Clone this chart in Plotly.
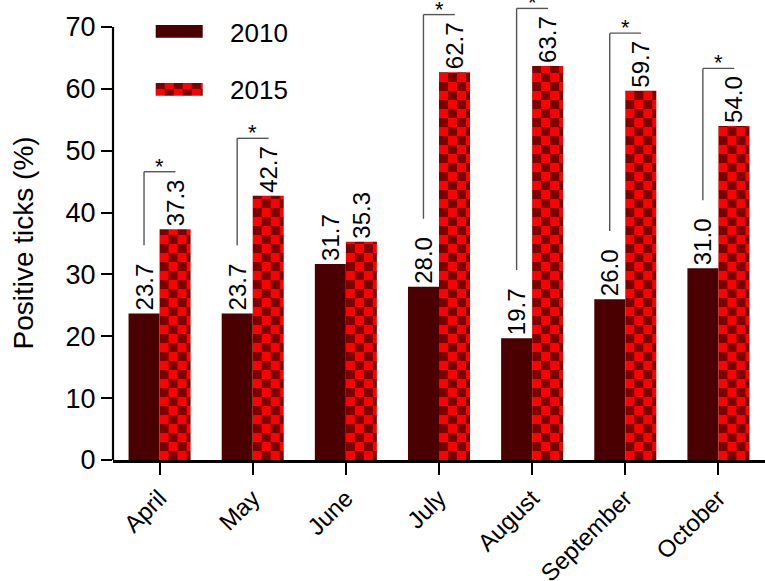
import plotly.graph_objects as go

# Monthly share of ticks testing positive, two survey years
months = ["April", "May", "June", "July", "August", "September", "October"]
pos_2010 = [23.7, 23.7, 31.7, 28.0, 19.7, 26.0, 31.0]
pos_2015 = [37.3, 42.7, 35.3, 62.7, 63.7, 59.7, 54.0]
significant = [True, True, False, True, True, True, True]
y_ticks = [0, 10, 20, 30, 40, 50, 60, 70]

FONT = "Liberation Sans, Arial, Helvetica, sans-serif"
DARK = "#4a0000"
CHECK_DARK = "#7a0000"
CHECK_RED = "#ff0000"

fig = go.Figure()
fig.add_trace(go.Bar(
    x=months, y=pos_2010, name="2010", marker_color=DARK, marker_line_width=0,
    texttemplate="%{y:.1f}", textposition="outside", textangle=-90,
    constraintext="none", cliponaxis=False,
    textfont=dict(family=FONT, size=24, color="black"),
))
fig.add_trace(go.Bar(
    x=months, y=pos_2015, name="2015", marker_color=CHECK_RED, marker_line_width=0,
    texttemplate="%{y:.1f}", textposition="outside", textangle=-90,
    constraintext="none", cliponaxis=False,
    textfont=dict(family=FONT, size=24, color="black"),
))

shapes = []
annotations = []

# Significance brackets: from above the 2010 label up to above the 2015 label
for i, sig in enumerate(significant):
    if not sig:
        continue
    low = pos_2010[i] + 11.0
    high = pos_2015[i] + 9.3
    xl, xr = i - 0.167, i + 0.17
    line = dict(color="#555555", width=1.4)
    shapes.append(dict(type="line", xref="x", yref="y", x0=xl, x1=xl, y0=low, y1=high, line=line))
    shapes.append(dict(type="line", xref="x", yref="y", x0=xl, x1=xr, y0=high, y1=high, line=line))
    annotations.append(dict(x=(xl + xr) / 2, y=high, xref="x", yref="y", text="*",
                            showarrow=False, yanchor="bottom", yshift=-9,
                            font=dict(family=FONT, size=22, color="black")))

# Left axis line, drawn only over the labelled range
shapes.append(dict(type="line", xref="paper", yref="y", x0=0, x1=0, y0=0, y1=70,
                   line=dict(color="black", width=2.2)))

# Hand-drawn legend: wide swatches with labels
shapes.append(dict(type="rect", xref="paper", yref="paper", x0=0.0655, x1=0.1376,
                   y0=0.918, y1=0.9457, fillcolor=DARK, line_width=0))
shapes.append(dict(type="rect", xref="paper", yref="paper", x0=0.0655, x1=0.1376,
                   y0=0.792, y1=0.8196, fillcolor=CHECK_RED, line_width=0))
legend_swatch_index = len(shapes) - 1
annotations.append(dict(x=0.176, y=0.929, xref="paper", yref="paper", text="2010",
                        showarrow=False, xanchor="left", yanchor="middle",
                        font=dict(family=FONT, size=26, color="black")))
annotations.append(dict(x=0.176, y=0.804, xref="paper", yref="paper", text="2015",
                        showarrow=False, xanchor="left", yanchor="middle",
                        font=dict(family=FONT, size=26, color="black")))

# Y axis title
annotations.append(dict(x=0, y=0.4707, xref="paper", yref="paper", xshift=-90,
                        text="Positive ticks (%)", textangle=-90, showarrow=False,
                        xanchor="center", yanchor="middle",
                        font=dict(family=FONT, size=28, color="black")))

fig.update_layout(
    width=765, height=581,
    margin=dict(l=113, r=0, t=0, b=121, autoexpand=False),
    plot_bgcolor="white", paper_bgcolor="white",
    barmode="group", bargap=0.334, bargroupgap=0,
    showlegend=False,
    font=dict(family=FONT, color="black"),
    shapes=shapes, annotations=annotations,
    xaxis=dict(
        range=[-0.5, 6.5], showline=True, linecolor="black", linewidth=2.5,
        ticks="outside", ticklen=12, tickwidth=2, tickcolor="black",
        tickangle=-45, tickfont=dict(family=FONT, size=24, color="black"),
        showgrid=False, zeroline=False, automargin=False,
    ),
    yaxis=dict(
        range=[0, 74.36], tickvals=y_ticks, showline=False,
        ticks="outside", ticklen=11, tickwidth=2, tickcolor="black",
        tickfont=dict(family=FONT, size=27, color="black"),
        showgrid=False, zeroline=False, automargin=False,
    ),
)

# Checkerboard fill for the 2015 bars and their legend swatch
post_js = """
var gd = document.getElementById('{plot_id}');
var NS = 'http://www.w3.org/2000/svg';
var defs = gd.querySelector('.main-svg defs');
var S = 9;
var n = 0;
function checker(x, y) {
  var id = 'chk' + (n++);
  var p = document.createElementNS(NS, 'pattern');
  p.setAttribute('id', id);
  p.setAttribute('patternUnits', 'userSpaceOnUse');
  p.setAttribute('x', x); p.setAttribute('y', y);
  p.setAttribute('width', 2 * S); p.setAttribute('height', 2 * S);
  var cells = [[0, 0, 2 * S, 2 * S, '%RED%'], [0, 0, S, S, '%DARK%'], [S, S, S, S, '%DARK%']];
  cells.forEach(function (c) {
    var r = document.createElementNS(NS, 'rect');
    r.setAttribute('x', c[0]); r.setAttribute('y', c[1]);
    r.setAttribute('width', c[2]); r.setAttribute('height', c[3]);
    r.setAttribute('fill', c[4]);
    p.appendChild(r);
  });
  defs.appendChild(p);
  return 'url(#' + id + ')';
}
var traces = gd.querySelectorAll('.barlayer .trace');
if (traces.length > 1) {
  traces[1].querySelectorAll('.point path').forEach(function (el) {
    var b = el.getBBox();
    el.style.fill = checker(b.x, b.y + b.height);
  });
}
gd.querySelectorAll('.shapelayer path[data-index="%IDX%"]').forEach(function (el) {
  var b = el.getBBox();
  el.style.fill = checker(b.x, b.y - 3);
});
""".replace("%RED%", CHECK_RED).replace("%DARK%", CHECK_DARK).replace("%IDX%", str(legend_swatch_index))

fig.write_html("out.html", post_script=post_js)
